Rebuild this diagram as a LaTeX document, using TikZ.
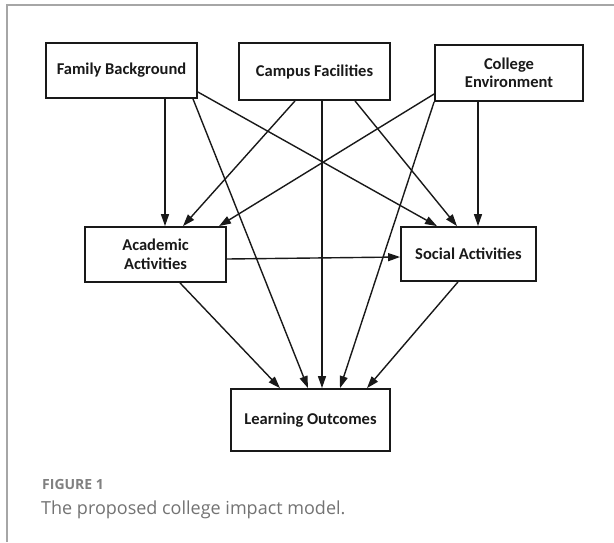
\documentclass[tikz,border=0pt]{standalone}
\usepackage{fontspec}
\setmainfont{Carlito}
\newfontfamily\capfont{Open Sans}
\usetikzlibrary{arrows.meta,calc}
\begin{document}
\begin{tikzpicture}[x=1pt,y=-1pt,
  box/.style={draw=black!90, line width=1.8pt, fill=white, align=center, inner sep=0pt,
    text=black!90, font=\fontsize{16.5}{18.5}\selectfont\bfseries},
  link/.style={line width=1.4pt, draw=black!90, -{Triangle[length=12pt,width=8pt]}},
  captext/.style={anchor=base west, inner sep=0pt}]
\fill[white] (0,0) rectangle (614,542);
\useasboundingbox (0,0) rectangle (614,542);
\draw[black!35, line width=1.2pt] (7,542) -- (7,5) -- (614,5);

\node[box, minimum width=151pt, minimum height=55pt] (fb) at (121.5,70.5) {Family Background};
\node[box, minimum width=151pt, minimum height=57pt] (cf) at (314.5,71.5) {Campus Facilities};
\node[box, minimum width=148pt, minimum height=56pt] (ce) at (509,73) {College\\Environment};
\node[box, minimum width=141pt, minimum height=55pt] (aa) at (155.5,254.5) {Academic\\Activities};
\node[box, minimum width=135pt, minimum height=54pt] (sa) at (468.5,254) {Social Activities};
\node[box, minimum width=159pt, minimum height=62pt] (lo) at (310.5,420) {Learning Outcomes};

\draw[link] ([xshift=43.5pt]fb.south) -- ([xshift=9.5pt]aa.north);
\draw[link] ([xshift=71.5pt]fb.south) -- ([xshift=-2.5pt]lo.north);
\draw[link] ([yshift=-21.5pt]fb.east) -- ([xshift=-31.5pt]sa.north);
\draw[link] ([xshift=-19.5pt]cf.south) -- ([xshift=27.5pt]aa.north);
\draw[link] ([xshift=7.5pt]cf.south) -- ([xshift=11.5pt]lo.north);
\draw[link] ([xshift=40.5pt]cf.south) -- ([xshift=-11.5pt]sa.north);
\draw[link] ([yshift=-21pt]ce.west) -- ([xshift=63.5pt]aa.north);
\draw[link] (ce.south west) -- ([xshift=29.5pt]lo.north);
\draw[link] ([xshift=-31pt]ce.south) -- ([xshift=9.5pt]sa.north);
\draw[link] ([yshift=-4.5pt]aa.east) -- ([yshift=-3pt]sa.west);
\draw[link] ([xshift=24.5pt]aa.south) -- ([xshift=-30.5pt]lo.north);
\draw[link] ([xshift=-10.5pt]sa.south) -- ([xshift=56.5pt]lo.north);

\node[captext, text=black!50, font=\capfont\bfseries\fontsize{14}{16}\selectfont] (fig) at (42,489) {FIGURE 1};
\node[captext, text=black!55, font=\capfont\fontsize{18}{20}\selectfont] (capline) at (41,514) {The proposed college impact model.};
\end{tikzpicture}
\end{document}
